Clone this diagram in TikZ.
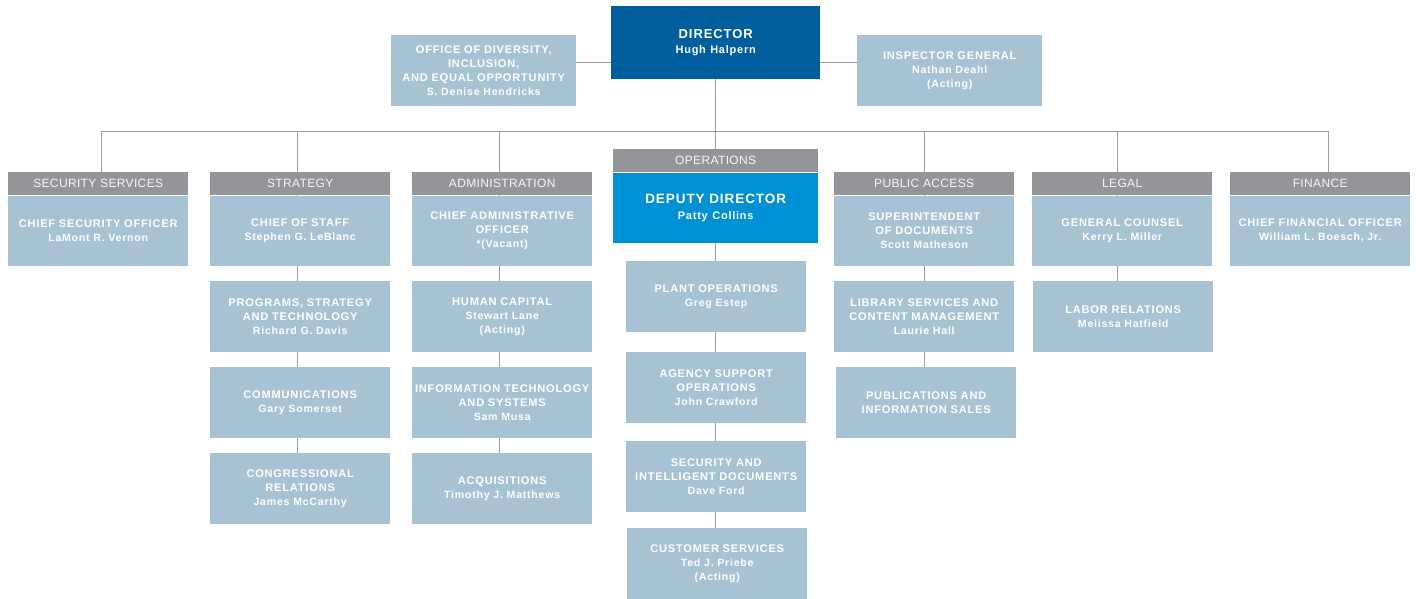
\documentclass[tikz,border=0pt]{standalone}
\usepackage{fontspec}
\setmainfont{Liberation Sans}[LetterSpace=7]
\newfontfamily\hdfont{Liberation Sans}[LetterSpace=3]
\usetikzlibrary{positioning}
\pgfdeclarelayer{bg}
\pgfsetlayers{bg,main}
\definecolor{dirblue}{HTML}{005E9E}
\definecolor{depblue}{HTML}{0090D4}
\definecolor{unitblue}{HTML}{A6C2D3}
\definecolor{headgray}{HTML}{939598}
\definecolor{linegray}{HTML}{9C9C9C}
\newcommand\who[2][10.6]{{\fontsize{#1}{14}\selectfont #2}}
\begin{document}
\begin{tikzpicture}[x=1pt,y=-1pt,
  box/.style={fill=unitblue,text=white,font=\fontsize{11.1}{14}\selectfont\bfseries,align=center,inner sep=0pt,text width=180pt,minimum height=71pt},
  hd/.style={fill=headgray,text=white!92!headgray,font=\hdfont\fontsize{12}{14}\selectfont,inner sep=0pt,minimum width=180pt,minimum height=23pt,anchor=north west},
  link/.style={draw=linegray,line width=1pt}]
\useasboundingbox (0,0) rectangle (1416,599);
\coordinate (mid) at (0,63);
\coordinate (bus) at (0,132);
% top row
\node[box,anchor=north west,text width=185pt] (odeo) at (391,35) {OFFICE OF DIVERSITY,\\INCLUSION,\\AND EQUAL OPPORTUNITY\\\who{S. Denise Hendricks}};
\node[box,anchor=north west,fill=dirblue,text width=209pt,minimum height=73pt,font=\fontsize{13}{15}\selectfont\bfseries] (dir) at (611,6) {DIRECTOR\\\who[11]{Hugh Halpern}};
\node[box,anchor=north west,text width=185pt] (ig) at (857,35) {INSPECTOR GENERAL\\\who{Nathan Deahl}\\\who{(Acting)}};
% security services
\node[hd] (sechd) at (8,172) {SECURITY SERVICES};
\node[box,minimum height=70pt,below=0pt of sechd] (cso) {CHIEF SECURITY OFFICER\\\who{LaMont R. Vernon}};
% strategy
\node[hd] (strhd) at (210,172) {STRATEGY};
\node[box,minimum height=70pt,below=0pt of strhd] (cos) {CHIEF OF STAFF\\\who{Stephen G. LeBlanc}};
\node[box,anchor=north west] (pst) at (210,281) {PROGRAMS, STRATEGY\\AND TECHNOLOGY\\\who{Richard G. Davis}};
\node[box,anchor=north west] (com) at (210,367) {COMMUNICATIONS\\\who{Gary Somerset}};
\node[box,anchor=north west] (cgr) at (210,453) {CONGRESSIONAL\\RELATIONS\\\who{James McCarthy}};
% administration
\node[hd] (admhd) at (412,172) {ADMINISTRATION};
\node[box,minimum height=70pt,below=0pt of admhd] (cao) {CHIEF ADMINISTRATIVE\\OFFICER\\\who{*(Vacant)}};
\node[box,anchor=north west] (hc) at (412,281) {HUMAN CAPITAL\\\who{Stewart Lane}\\\who{(Acting)}};
\node[box,anchor=north west] (its) at (412,367) {INFORMATION TECHNOLOGY\\AND SYSTEMS\\\who{Sam Musa}};
\node[box,anchor=north west] (acq) at (412,453) {ACQUISITIONS\\\who{Timothy J. Matthews}};
% operations
\node[hd,minimum width=205pt,anchor=north west] (opshd) at (613,149) {OPERATIONS};
\node[box,below=0pt of opshd,fill=depblue,text width=205pt,minimum height=70pt,font=\fontsize{13.5}{16}\selectfont\bfseries] (dep) {DEPUTY DIRECTOR\\\who[11]{Patty Collins}};
\node[box,anchor=north west] (plant) at (626,261) {PLANT OPERATIONS\\\who{Greg Estep}};
\node[box,anchor=north west] (agency) at (626,352) {AGENCY SUPPORT\\OPERATIONS\\\who{John Crawford}};
\node[box,anchor=north west] (sid) at (626,441) {SECURITY AND\\INTELLIGENT DOCUMENTS\\\who{Dave Ford}};
\node[box,anchor=north west] (cust) at (627,528) {CUSTOMER SERVICES\\\who{Ted J. Priebe}\\\who{(Acting)}};
% public access
\node[hd] (pubhd) at (834,172) {PUBLIC ACCESS};
\node[box,minimum height=70pt,below=0pt of pubhd] (sup) {SUPERINTENDENT\\OF DOCUMENTS\\\who{Scott Matheson}};
\node[box,anchor=north west] (lib) at (834,281) {LIBRARY SERVICES AND\\CONTENT MANAGEMENT\\\who{Laurie Hall}};
\node[box,anchor=north west] (pis) at (836,367) {PUBLICATIONS AND\\INFORMATION SALES};
% legal
\node[hd] (leghd) at (1032,172) {LEGAL};
\node[box,minimum height=70pt,below=0pt of leghd] (gc) {GENERAL COUNSEL\\\who{Kerry L. Miller}};
\node[box,anchor=north west] (lab) at (1033,281) {LABOR RELATIONS\\\who{Melissa Hatfield}};
% finance
\node[hd] (finhd) at (1230,172) {FINANCE};
\node[box,minimum height=70pt,below=0pt of finhd] (cfo) {CHIEF FINANCIAL OFFICER\\\who{William L. Boesch, Jr.}};
% connectors
\begin{pgfonlayer}{bg}
\draw[link] (odeo.east|-mid) -- (ig.west|-mid);
\draw[link] (dir) -- (opshd.north);
\draw[link] ([xshift=3]sechd.north) -- ([xshift=3]sechd.north|-bus) -- ([xshift=8]finhd.north|-bus) -- ([xshift=8]finhd.north);
\draw[link] ([xshift=-3]strhd.north|-bus) -- ([xshift=-3]cgr.north);
\draw[link] ([xshift=-3]admhd.north|-bus) -- ([xshift=-3]acq.north);
\draw[link] (dep.south) -- (dep.south|-cust.north);
\draw[link] (pubhd.north|-bus) -- (pubhd.north|-pis.north);
\draw[link] ([xshift=-5]leghd.north|-bus) -- ([xshift=-5]leghd.north|-lab.north);
\end{pgfonlayer}
\end{tikzpicture}
\end{document}
